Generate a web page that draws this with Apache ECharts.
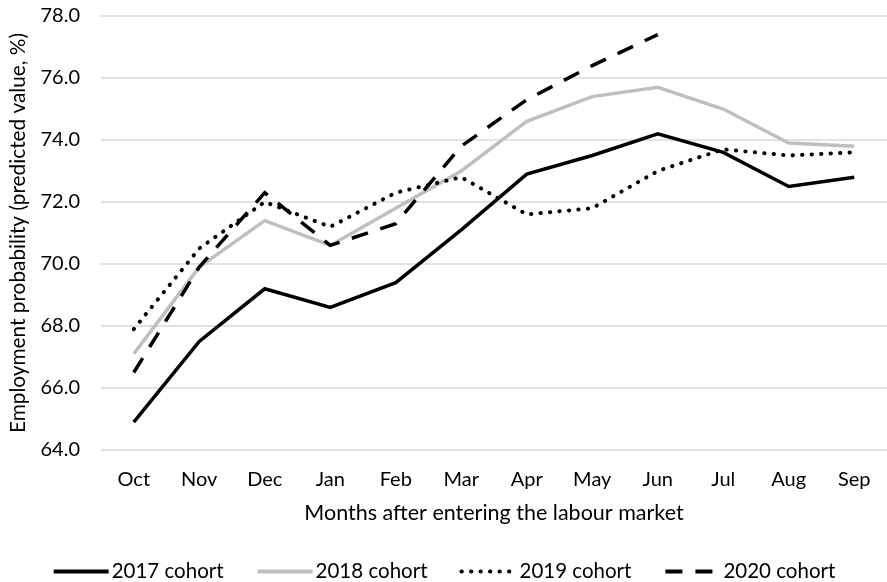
<!DOCTYPE html>
<html>
<head>
<meta charset="utf-8">
<script src="https://cdn.jsdelivr.net/npm/echarts@6/dist/echarts.min.js"></script>
<style>html,body{margin:0;padding:0;background:#fff}#c{width:887px;height:582px}</style>
</head>
<body>
<div id="c"></div>
<script>
const months = ['Oct','Nov','Dec','Jan','Feb','Mar','Apr','May','Jun','Jul','Aug','Sep'];
const cohort2017 = [64.9, 67.5, 69.2, 68.6, 69.4, 71.1, 72.9, 73.5, 74.2, 73.6, 72.5, 72.8];
const cohort2018 = [67.1, 69.9, 71.4, 70.6, 71.8, 73.0, 74.6, 75.4, 75.7, 75.0, 73.9, 73.8];
const cohort2019 = [67.9, 70.5, 72.0, 71.2, 72.3, 72.8, 71.6, 71.8, 73.0, 73.7, 73.5, 73.6];
const cohort2020 = [66.5, 69.9, 72.3, 70.6, 71.3, 73.8, 75.3, 76.4, 77.4, null, null, null];
const seriesNames = ['2017 cohort','2018 cohort','2019 cohort','2020 cohort'];
const yTicks = [64, 66, 68, 70, 72, 74, 76, 78];

const FONT = 'Lato';
const chart = echarts.init(document.getElementById('c'), null, {renderer: 'canvas'});
const styles = [
  {color: '#000000', type: 'solid', cap: 'butt', width: 3.5},
  {color: '#BFBFBF', type: 'solid', cap: 'butt', width: 3.5},
  {color: '#000000', type: [0.3, 9.2], cap: 'round', width: 4},
  {color: '#000000', type: [17, 13], cap: 'butt', width: 3.5}
];
const data = [cohort2017, cohort2018, cohort2019, cohort2020];
chart.setOption({
  animation: false,
  textStyle: {fontFamily: FONT, color: '#000'},
  grid: {left: 99, top: 16, width: 792, height: 434, containLabel: false},
  xAxis: {
    type: 'category',
    data: months,
    boundaryGap: true,
    axisLine: {show: false},
    axisTick: {show: false},
    axisLabel: {fontFamily: FONT, fontSize: 20, color: '#000', margin: 20},
    name: 'Months after entering the labour market',
    nameLocation: 'middle',
    nameGap: 52,
    nameTextStyle: {fontFamily: FONT, fontSize: 21.5, color: '#000'}
  },
  yAxis: {
    type: 'value',
    min: yTicks[0],
    max: yTicks[yTicks.length - 1],
    interval: 2,
    axisLine: {show: false},
    axisTick: {show: false},
    axisLabel: {fontFamily: FONT, fontSize: 20, color: '#000', margin: 21, formatter: v => v.toFixed(1)},
    splitLine: {lineStyle: {color: '#D9D9D9', width: 1.5}},
    name: 'Employment probability (predicted value, %)',
    nameLocation: 'middle',
    nameGap: 72,
    nameTextStyle: {fontFamily: FONT, fontSize: 20.8, color: '#000'}
  },
  legend: {
    top: 556,
    left: 'center',
    itemWidth: 55,
    itemHeight: 12,
    itemGap: 32,
    itemStyle: {opacity: 0},
    lineStyle: {width: 4},
    textStyle: {fontFamily: FONT, fontSize: 20.5, color: '#000', padding: [0,0,0,-2]},
    data: seriesNames
  },
  series: seriesNames.map((n, i) => ({
    name: n,
    type: 'line',
    data: data[i],
    symbol: 'none',
    z: [3, 2, 4, 5][i],
    lineStyle: {color: styles[i].color, width: styles[i].width, type: styles[i].type, cap: styles[i].cap, join: 'miter'},
    itemStyle: {color: styles[i].color}
  }))
});
</script>
</body>
</html>
